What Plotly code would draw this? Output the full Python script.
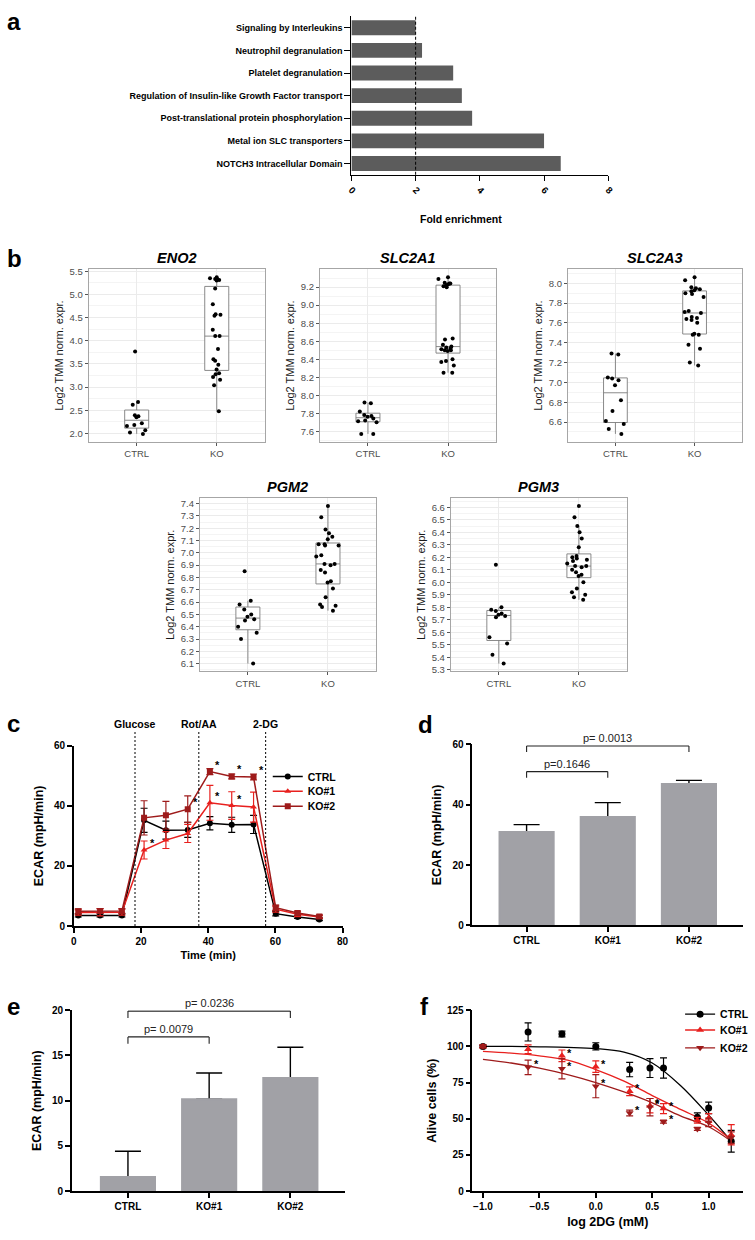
import plotly.graph_objects as go

W, H = 755, 1240
FONT = "Liberation Sans, Arial, sans-serif"

# ---------------- data ----------------
# panel a
pathways = ["Signaling by Interleukins", "Neutrophil degranulation", "Platelet degranulation",
            "Regulation of Insulin-like Growth Factor transport",
            "Post-translational protein phosphorylation", "Metal ion SLC transporters",
            "NOTCH3 Intracellular Domain"]
fold_enrichment = [2.0, 2.2, 3.17, 3.44, 3.76, 6.0, 6.52]
enrichment_threshold = 2

# panel b
genes = ["ENO2", "SLC2A1", "SLC2A3", "PGM2", "PGM3"]
groups = ["CTRL", "KO"]
eno2_ctrl = [1.99, 2.02, 2.07, 2.16, 2.18, 2.22, 2.35, 2.37, 2.39, 2.62, 2.68, 3.77]
eno2_ko = [2.48, 3.04, 3.16, 3.22, 3.28, 3.30, 3.38, 3.48, 3.57, 3.60, 3.82, 4.10, 4.10,
           4.24, 4.54, 4.56, 4.57, 4.79, 5.13, 5.30, 5.31, 5.32, 5.33, 5.35, 5.37]
slc2a1_ctrl = [7.57, 7.57, 7.70, 7.71, 7.72, 7.74, 7.76, 7.77, 7.78, 7.82, 7.91, 7.92]
slc2a1_ko = [8.25, 8.25, 8.33, 8.37, 8.38, 8.40, 8.49, 8.50, 8.50, 8.51, 8.52, 8.53, 8.54,
             8.56, 8.62, 8.63, 9.20, 9.21, 9.22, 9.23, 9.24, 9.24, 9.25, 9.29, 9.31]
slc2a3_ctrl = [6.48, 6.53, 6.58, 6.61, 6.71, 6.82, 6.97, 7.02, 7.04, 7.05, 7.28, 7.29]
slc2a3_ko = [7.17, 7.20, 7.34, 7.38, 7.48, 7.48, 7.49, 7.60, 7.63, 7.64, 7.65, 7.66, 7.70,
             7.71, 7.72, 7.86, 7.89, 7.90, 7.92, 7.93, 7.94, 7.95, 7.96, 8.03, 8.06]
pgm2_ctrl = [6.10, 6.30, 6.35, 6.40, 6.45, 6.46, 6.48, 6.50, 6.54, 6.58, 6.61, 6.85]
pgm2_ko = [6.53, 6.56, 6.57, 6.58, 6.64, 6.71, 6.76, 6.77, 6.84, 6.86, 6.90, 6.91, 6.91,
           6.97, 6.98, 7.06, 7.06, 7.07, 7.07, 7.11, 7.13, 7.16, 7.19, 7.29, 7.38]
pgm3_ctrl = [5.35, 5.42, 5.51, 5.56, 5.72, 5.73, 5.74, 5.75, 5.77, 5.78, 5.80, 6.14]
pgm3_ko = [5.86, 5.88, 5.90, 5.92, 5.95, 6.00, 6.05, 6.06, 6.08, 6.10, 6.12, 6.13, 6.13,
           6.15, 6.17, 6.18, 6.19, 6.20, 6.21, 6.28, 6.35, 6.40, 6.45, 6.52, 6.61]
gene_ticks = [0.5, 0.2, 0.2, 0.1, 0.1]

# panel c
series = ["CTRL", "KO#1", "KO#2"]
c_time = [1.3, 7.8, 14.3, 20.9, 27.4, 33.9, 40.5, 47.0, 53.5, 60.1, 66.6, 73.1]
c_ctrl = [3.5, 3.5, 3.5, 35.2, 31.9, 32.0, 34.2, 33.7, 33.8, 4.1, 3.0, 2.2]
c_ctrl_sd = [0.5, 0.5, 0.5, 4.0, 3.0, 2.5, 2.2, 2.5, 3.0, 0.7, 0.5, 0.4]
c_ko1 = [4.5, 4.6, 4.6, 25.3, 28.6, 30.8, 41.0, 40.1, 39.6, 5.6, 3.9, 3.0]
c_ko1_sd = [0.9, 1.2, 1.0, 3.0, 2.8, 3.0, 5.8, 4.6, 5.0, 1.0, 0.8, 0.5]
c_ko2 = [4.9, 5.0, 5.0, 36.0, 36.9, 38.9, 51.4, 49.8, 49.6, 6.1, 4.3, 3.2]
c_ko2_sd = [0.8, 0.8, 0.8, 5.7, 4.6, 4.4, 1.0, 0.8, 1.0, 0.9, 0.7, 0.5]
c_sig_ko1 = [3, 6, 7]
c_sig_ko2 = [5, 6, 7, 8]
injections = ["Glucose", "Rot/AA", "2-DG"]
injection_times = [18.2, 37.2, 57.1]

# panel d
d_values = [31.0, 35.9, 46.9]
d_sd = [2.4, 4.8, 1.2]
d_pairs = [(0, 1), (0, 2)]
d_pvals = ["p=0.1646", "p= 0.0013"]
d_bracket_y = [51.0, 59.5]

# panel e
e_values = [1.55, 10.15, 12.5]
e_sd = [2.85, 2.9, 3.4]
e_pairs = [(0, 1), (0, 2)]
e_pvals = ["p= 0.0079", "p= 0.0236"]
e_bracket_y = [17.05, 19.9]

# panel f
f_logdose = [-1.0, -0.6, -0.3, 0.0, 0.3, 0.48, 0.6, 0.9, 1.0, 1.2]
f_ctrl = [100, 110, 108.5, 100, 84, 85, 85, 51, 57.5, 34.5]
f_ctrl_sd = [0.8, 6.3, 2.0, 2.5, 5.0, 6.5, 7.0, 3.0, 4.0, 7.5]
f_ko1 = [100, 98, 93.5, 86, 69, 59, 57, 49, 50.5, 39]
f_ko1_sd = [0.8, 3.0, 4.0, 4.0, 3.0, 5.0, 3.5, 2.0, 3.0, 7.0]
f_ko2 = [100, 85.5, 84.5, 72.5, 54, 58, 48, 43, 47.5, 37]
f_ko2_sd = [0.8, 5.0, 7.0, 8.0, 2.0, 6.0, 1.0, 1.0, 3.0, 4.0]
f_sig_ko1 = [2, 3, 4, 5, 6]
f_sig_ko2 = [1, 2, 3, 4, 5, 6]
# fitted curves
f_curve_x = [-1.0, -0.75, -0.5, -0.25, 0.0, 0.25, 0.5, 0.75, 1.0, 1.2]
f_curve_ctrl = [100, 100, 99.7, 99.3, 98.5, 96, 88.5, 73, 52.5, 34.5]
f_curve_ko1 = [96.5, 95.3, 93.5, 90.5, 84, 76, 66, 56.5, 47, 35.5]
f_curve_ko2 = [91, 88.5, 85, 80.5, 75, 68.5, 61, 52, 44.5, 34.5]

# ---------------- helpers ----------------
def xd(l, r):
    return [l / W, r / W]

def yd(t, b):
    return [1 - b / H, 1 - t / H]

def py(p):
    return 1 - p / H

BLACK = "black"
RED = "#e8201e"
DARKRED = "#9e1b1b"
colors = [BLACK, RED, DARKRED]

fig = go.Figure()
layout = dict(width=W, height=H, margin=dict(l=0, r=0, t=0, b=0),
              paper_bgcolor="white", plot_bgcolor="white",
              barmode="overlay", boxmode="overlay",
              font=dict(family=FONT, color="black"))
annotations = []
shapes = []

def bold(size, color="black", family=FONT):
    return dict(family=family, size=size, color=color, weight="bold")

gp_axis = dict(showline=True, linecolor="black", linewidth=1.5, ticks="outside", ticklen=5,
               tickwidth=1.5, tickcolor="black", showgrid=False, zeroline=False,
               tickfont=bold(10), title_font=bold(12))

# ---------------- panel a ----------------
fig.add_trace(go.Bar(y=pathways, x=fold_enrichment, orientation="h", width=0.66,
                     marker=dict(color="#5c5c5c", line=dict(width=0)),
                     xaxis="x", yaxis="y", showlegend=False))
layout["xaxis"] = dict(gp_axis, domain=xd(352, 613), anchor="y", range=[0, 8], dtick=2,
                       tickangle=45, linewidth=1.2, tickwidth=1.2, tickfont=bold(9.5))
layout["yaxis"] = dict(gp_axis, domain=yd(10.6, 170.4), anchor="x", type="category",
                       categoryorder="array", categoryarray=pathways, range=[6.5, -0.5],
                       linewidth=1.2, tickwidth=1.2, ticklen=6, tickfont=bold(9))
shapes.append(dict(type="line", xref="x", yref="y domain", x0=enrichment_threshold,
                   x1=enrichment_threshold, y0=0, y1=1,
                   line=dict(color="black", width=1, dash="3px,2px")))
annotations.append(dict(text="Fold enrichment", xref="paper", yref="paper", x=507 / W,
                        y=py(207), showarrow=False, font=bold(10.5)))

# ---------------- panel b ----------------
gene_data = [(eno2_ctrl, eno2_ko), (slc2a1_ctrl, slc2a1_ko), (slc2a3_ctrl, slc2a3_ko),
             (pgm2_ctrl, pgm2_ko), (pgm3_ctrl, pgm3_ko)]
b_domains = [((85, 264), (266, 440)), ((320, 499), (266, 440)), ((572, 749), (266, 440)),
             ((198, 377), (497, 672)), ((453, 632), (497, 672))]
for i, (gene, (ctrl, ko), dt, (xdom, ydom)) in enumerate(zip(genes, gene_data, gene_ticks, b_domains)):
    n = i + 2
    xa, ya = f"x{n}", f"y{n}"
    for grp, vals in zip(groups, (ctrl, ko)):
        fig.add_trace(go.Box(y=vals, x=[grp] * len(vals), name=grp, boxpoints="all",
                             jitter=1.0, pointpos=0, width=0.3, whiskerwidth=0,
                             marker=dict(color="black", size=4),
                             line=dict(color="#7d7d7d", width=0.9), fillcolor="white",
                             xaxis=xa, yaxis=ya, showlegend=False))
    allv = ctrl + ko
    lo, hi = min(allv), max(allv)
    pad = 0.05 * (hi - lo)
    layout[f"xaxis{n}"] = dict(domain=xd(*xdom), anchor=ya, type="category",
                               categoryorder="array", categoryarray=groups,
                               range=[-0.6, 1.6], showgrid=True, gridcolor="#ebebeb",
                               gridwidth=1, zeroline=False, showline=True, mirror=True,
                               linecolor="#a6a6a6", linewidth=1, ticks="outside", ticklen=3,
                               tickcolor="#555555", tickwidth=0.8,
                               tickfont=dict(family=FONT, size=9.5, color="#4d4d4d"))
    layout[f"yaxis{n}"] = dict(domain=yd(*ydom), anchor=xa, range=[lo - pad, hi + pad],
                               tick0=0, dtick=dt, tickformat=".1f", showgrid=True,
                               gridcolor="#ebebeb", gridwidth=1, zeroline=False,
                               minor=dict(dtick=dt / 2, tick0=0, showgrid=True,
                                          gridcolor="#f4f4f4", gridwidth=0.6),
                               showline=True, mirror=True, linecolor="#a6a6a6", linewidth=1,
                               ticks="outside", ticklen=3, tickcolor="#555555", tickwidth=0.8,
                               tickfont=dict(family=FONT, size=9.5, color="#4d4d4d"),
                               title=dict(text="Log2 TMM norm. expr.", standoff=3,
                                          font=dict(family=FONT, size=11, color="#1a1a1a")))
    annotations.append(dict(text=f"<b><i>{gene}</i></b>", xref=f"{xa} domain", x=0.5,
                            yref=f"{ya} domain", y=1, yanchor="bottom", yshift=1,
                            showarrow=False, font=dict(family=FONT, size=14.5, color="black")))

# ---------------- panel c ----------------
c_vals = [c_ctrl, c_ko1, c_ko2]
c_sds = [c_ctrl_sd, c_ko1_sd, c_ko2_sd]
c_symbols = ["circle", "triangle-up", "square"]
c_legends = ["legend", "legend2", "legend3"]
c_leg_y = [778, 793, 808]
for name, vals, sd, col, sym, lg in zip(series, c_vals, c_sds, colors, c_symbols, c_legends):
    fig.add_trace(go.Scatter(x=c_time, y=vals, mode="lines+markers", name=name,
                             line=dict(color=col, width=1.5),
                             marker=dict(color=col, symbol=sym, size=6),
                             error_y=dict(type="data", array=sd, color=col, thickness=1.2,
                                          width=3.5),
                             xaxis="x7", yaxis="y7", legend=lg))
for lg, ly in zip(c_legends, c_leg_y):
    layout[lg] = dict(x=267 / W, y=py(ly), xanchor="left", yanchor="middle",
                      bgcolor="rgba(0,0,0,0)", font=bold(10.5), itemwidth=30,
                      tracegroupgap=0)
layout["xaxis7"] = dict(gp_axis, domain=xd(70, 343), anchor="y7", range=[0, 80], dtick=20,
                        title=dict(text="Time (min)", font=bold(11), standoff=6))
layout["yaxis7"] = dict(gp_axis, domain=yd(747, 929), anchor="x7", range=[0, 60], dtick=20,
                        title=dict(text="ECAR (mpH/min)", font=bold(12.5), standoff=8))
for lab, t in zip(injections, injection_times):
    shapes.append(dict(type="line", xref="x7", yref="paper", x0=t, x1=t, y0=py(929),
                       y1=py(733), line=dict(color="black", width=1, dash="2px,2px")))
    annotations.append(dict(text=lab, xref="x7", x=t, yref="paper", y=py(725),
                            yanchor="middle", showarrow=False, font=bold(10.5)))
for idxs, vals in ((c_sig_ko1, c_ko1), (c_sig_ko2, c_ko2)):
    for i in idxs:
        annotations.append(dict(text="*", xref="x7", yref="y7", x=c_time[i], y=vals[i],
                                xshift=8, yshift=7, showarrow=False, font=bold(11)))

# ---------------- panels d and e (bar charts) ----------------
def bar_panel(n, values, sd, pairs, pvals, bracket_y, leg):
    xa, ya = f"x{n}", f"y{n}"
    fig.add_trace(go.Bar(x=series, y=values, width=0.667, marker=dict(color="#a1a1a6"),
                         error_y=dict(type="data", array=sd, arrayminus=[0] * len(sd),
                                      symmetric=False, color="black", thickness=1.4,
                                      width=13),
                         xaxis=xa, yaxis=ya, showlegend=False))
    fig.add_trace(go.Bar(x=series, y=values, width=0.667,
                         marker=dict(color="#a1a1a6", line=dict(color="#a1a1a6", width=2)),
                         xaxis=xa, yaxis=ya, showlegend=False))
    for (i0, i1), txt, yb in zip(pairs, pvals, bracket_y):
        for (xa0, ya0, xa1, ya1) in ((i0, yb - leg, i0, yb), (i0, yb, i1, yb),
                                     (i1, yb, i1, yb - leg)):
            shapes.append(dict(type="line", xref=xa, yref=ya, x0=xa0, y0=ya0, x1=xa1,
                               y1=ya1, line=dict(color="#222222", width=1.1)))
        annotations.append(dict(text=txt, xref=xa, yref=ya, x=(i0 + i1) / 2, y=yb,
                                yanchor="bottom", showarrow=False,
                                font=dict(family=FONT, size=11, color="#222222")))

bar_panel(8, d_values, d_sd, d_pairs, d_pvals, d_bracket_y, 2.0)
layout["xaxis8"] = dict(gp_axis, domain=xd(475, 750), anchor="y8", type="category",
                        categoryorder="array", categoryarray=series, range=[-0.667, 2.667])
layout["yaxis8"] = dict(gp_axis, domain=yd(745.7, 928.3), anchor="x8", range=[0, 60],
                        dtick=20, title=dict(text="ECAR (mpH/min)", font=bold(12.5), standoff=8))

bar_panel(9, e_values, e_sd, e_pairs, e_pvals, e_bracket_y, 0.75)
layout["xaxis9"] = dict(gp_axis, domain=xd(68, 345), anchor="y9", type="category",
                        categoryorder="array", categoryarray=series, range=[-0.69, 2.667])
layout["yaxis9"] = dict(gp_axis, domain=yd(1014, 1196.7), anchor="x9", range=[0, 20],
                        dtick=5, title=dict(text="ECAR (mpH/min)", font=bold(12.5), standoff=8))

# ---------------- panel f ----------------
f_vals = [f_ctrl, f_ko1, f_ko2]
f_sds = [f_ctrl_sd, f_ko1_sd, f_ko2_sd]
f_curves = [f_curve_ctrl, f_curve_ko1, f_curve_ko2]
f_symbols = ["circle", "triangle-up", "triangle-down"]
f_legends = ["legend4", "legend5", "legend6"]
f_leg_y = [1018, 1034, 1052]
for curve, col in zip(f_curves, colors):
    fig.add_trace(go.Scatter(x=f_curve_x, y=curve, mode="lines",
                             line=dict(color=col, width=1.3, shape="spline", smoothing=1.0),
                             xaxis="x10", yaxis="y10", showlegend=False))
for name, vals, sd, col, sym, lg in zip(series, f_vals, f_sds, colors, f_symbols, f_legends):
    fig.add_trace(go.Scatter(x=f_logdose, y=vals, mode="markers",
                             marker=dict(color=col, symbol=sym, size=7),
                             error_y=dict(type="data", array=sd, color=col, thickness=1.2,
                                          width=3.5),
                             xaxis="x10", yaxis="y10", showlegend=False))
    fig.add_trace(go.Scatter(x=[None], y=[None], mode="lines+markers", name=name,
                             line=dict(color=col, width=1.3),
                             marker=dict(color=col, symbol=sym, size=7),
                             xaxis="x10", yaxis="y10", legend=lg))
for lg, ly in zip(f_legends, f_leg_y):
    layout[lg] = dict(x=686 / W, y=py(ly), xanchor="left", yanchor="middle",
                      bgcolor="rgba(0,0,0,0)", font=bold(10.5), itemwidth=30,
                      tracegroupgap=0)
for idxs, vals in ((f_sig_ko1, f_ko1), (f_sig_ko2, f_ko2)):
    for i in idxs:
        annotations.append(dict(text="*", xref="x10", yref="y10", x=f_logdose[i], y=vals[i],
                                xshift=8, yshift=3, showarrow=False, font=bold(11)))
layout["xaxis10"] = dict(gp_axis, domain=xd(475, 750), anchor="y10", range=[-1.093, 1.305],
                         tickvals=[-1.0, -0.5, 0.0, 0.5, 1.0], tickformat=".1f",
                         title=dict(text="log 2DG (mM)", font=bold(12.5), standoff=6))
layout["yaxis10"] = dict(gp_axis, domain=yd(1014, 1196.7), anchor="x10", range=[0, 125],
                         dtick=25, title=dict(text="Alive cells (%)", font=bold(12.5), standoff=8))

# ---------------- panel letters ----------------
for letter, x, top in (("a", 0, 0), ("b", 0, 239), ("c", 0, 709), ("d", 418, 710),
                       ("e", 0, 995), ("f", 420, 995)):
    annotations.append(dict(text=letter, xref="paper", yref="paper", x=x / W, y=py(top),
                            xanchor="left", yanchor="top", showarrow=False,
                            font=bold(24)))

layout["annotations"] = annotations
layout["shapes"] = shapes
fig.update_layout(**layout)
fig.write_html("out.html", config={"displayModeBar": False},
               post_script="document.body.style.margin='0px';")
